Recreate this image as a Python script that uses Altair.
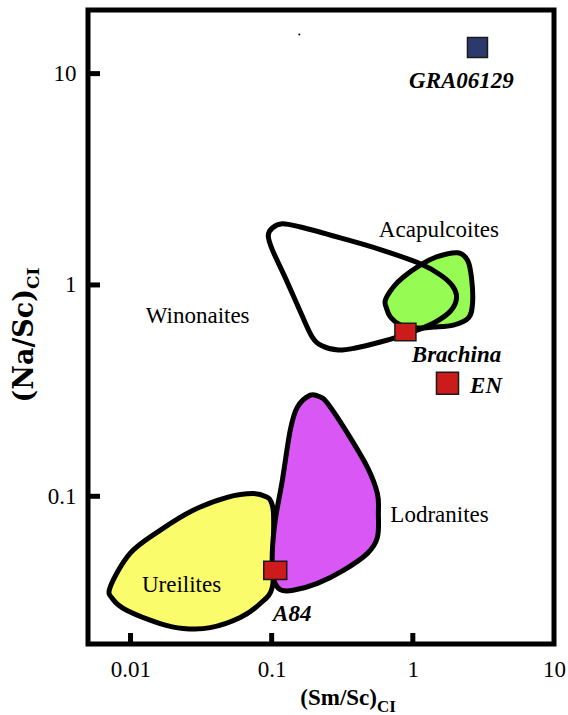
import altair as alt
import pandas as pd

# ---------------- data ----------------
# Winonaites field (outline only)
win_x = [0.0946, 0.101, 0.119, 0.160, 0.307, 0.589, 1.13, 1.57, 1.91, 2.04, 1.85,
         1.45, 1.08, 0.817, 0.589, 0.392, 0.297, 0.229, 0.194, 0.160, 0.125, 0.101]
win_y = [1.71, 1.86, 1.95, 1.88, 1.67, 1.47, 1.26, 1.115, 0.989, 0.868, 0.753,
         0.668, 0.612, 0.573, 0.537, 0.503, 0.492, 0.514, 0.567, 0.745, 1.08, 1.47]

# Acapulcoites field
aca_x = [0.639, 0.728, 0.858, 1.13, 1.49, 2.07, 2.44, 2.60, 2.65, 2.48, 1.94,
         1.40, 1.08, 0.817, 0.694, 0.650]
aca_y = [0.849, 0.978, 1.09, 1.24, 1.36, 1.42, 1.31, 1.09, 0.822, 0.698, 0.646,
         0.632, 0.626, 0.646, 0.705, 0.778]

# Lodranites field
lod_x = [0.188, 0.221, 0.248, 0.344, 0.477, 0.561, 0.570, 0.561, 0.477, 0.322,
         0.211, 0.142, 0.115, 0.103, 0.101, 0.106, 0.119, 0.1355, 0.152]
lod_y = [0.301, 0.295, 0.276, 0.199, 0.137, 0.103, 0.083, 0.0639, 0.0537, 0.0446,
         0.0387, 0.0359, 0.0362, 0.0409, 0.0537, 0.0769, 0.119, 0.206, 0.264]

# Ureilites field
ure_x = [0.0931, 0.0741, 0.0484, 0.0278, 0.0162, 0.00993, 0.00717, 0.00753, 0.00946,
         0.0162, 0.0236, 0.0367, 0.0599, 0.0830, 0.101, 0.103, 0.103, 0.0994]
ure_y = [0.0989, 0.103, 0.0989, 0.0859, 0.0690, 0.0537, 0.0371, 0.0325, 0.0288,
         0.0250, 0.0237, 0.0239, 0.0267, 0.0311, 0.0371, 0.0573, 0.0830, 0.0937]

# individual meteorites
sample_names = ["GRA06129", "Brachina", "EN", "A84"]
sample_x = [2.87, 0.886, 1.76, 0.106]
sample_y = [13.3, 0.599, 0.343, 0.0446]
sample_label_x = [2.21, 2.04, 3.30, 0.140]
sample_label_y = [8.59, 0.432, 0.308, 0.0258]

# group labels
group_names = ["Winonaites", "Acapulcoites", "Lodranites", "Ureilites"]
group_label_x = [0.0299, 1.53, 1.545, 0.0230]
group_label_y = [0.660, 1.69, 0.0753, 0.0352]

# stray dot in the original
dot_x = [0.157]
dot_y = [15.3]

# axes
x_tick_values = [0.01, 0.1, 1, 10]
x_inner_ticks = [0.01, 0.1, 1]
y_tick_values = [0.1, 1, 10]
x_domain = [0.005, 10]
y_domain = [0.02, 20]
x_title_main, x_title_sub = "(Sm/Sc)", "CI"
y_title_main, y_title_sub = "(Na/Sc)", "CI"

# ---------------- styles ----------------
W, H = 466, 634
SERIF = "'Liberation Serif', 'Times New Roman', Times, serif"
YSERIF = "'DejaVu Serif', serif"
RED = "#cc1b1b"
NAVY = "#2b3a6b"
GREEN = "#96fb52"
YELLOW = "#fbfc6c"
MAGENTA = "#d957f5"

xscale = alt.Scale(type="log", domain=x_domain, nice=False)
yscale = alt.Scale(type="log", domain=y_domain, nice=False)
xaxis = alt.Axis(values=x_tick_values, format="~g", title=None, grid=False, ticks=False,
                 tickSize=0, domain=False, labelFont=SERIF, labelFontSize=23,
                 labelColor="black", labelPadding=14, labelFlush=False)
yaxis = alt.Axis(values=y_tick_values, format="~g", title=None, grid=False, ticks=False,
                 tickSize=0, domain=False, labelFont=SERIF, labelFontSize=23,
                 labelColor="black", labelPadding=12, labelFlush=False)

X = alt.X("x:Q", scale=xscale, axis=xaxis)
Y = alt.Y("y:Q", scale=yscale, axis=yaxis)


def blob(xs, ys, fill=None):
    df = pd.DataFrame({"x": xs, "y": ys, "i": list(range(len(xs)))})
    kw = dict(interpolate="cardinal-closed", stroke="black", strokeWidth=5,
              strokeJoin="round")
    if fill is not None:
        kw["fill"] = fill
    return alt.Chart(df).mark_line(**kw).encode(x=X, y=Y, order="i:Q")


ure = blob(ure_x, ure_y, YELLOW)
lod = blob(lod_x, lod_y, MAGENTA)
aca = blob(aca_x, aca_y, GREEN)
win = blob(win_x, win_y)

xt = alt.Chart(pd.DataFrame({"x": x_inner_ticks})).mark_rule(
    color="black", strokeWidth=5).encode(x=X, y=alt.value(H), y2=alt.value(H - 11))
yt = alt.Chart(pd.DataFrame({"y": y_tick_values})).mark_rule(
    color="black", strokeWidth=5).encode(y=Y, x=alt.value(0), x2=alt.value(12))

dot = alt.Chart(pd.DataFrame({"x": dot_x, "y": dot_y})).mark_circle(
    size=4, color="black", opacity=1).encode(x=X, y=Y)

smp_df = pd.DataFrame({"name": sample_names, "x": sample_x, "y": sample_y})
markers = alt.Chart(smp_df).mark_point(
    filled=True, opacity=1, stroke="#1a1a1a", strokeWidth=1.5).encode(
    x=X, y=Y,
    fill=alt.Fill("name:N", scale=alt.Scale(domain=sample_names,
                                             range=[NAVY, RED, RED, RED]), legend=None),
    shape=alt.Shape("name:N", scale=alt.Scale(
        domain=sample_names,
        range=["square", "M-1,-0.826H1V0.826H-1Z", "square", "M-1,-0.79H1V0.79H-1Z"]),
        legend=None),
    size=alt.Size("name:N", scale=alt.Scale(domain=sample_names,
                                             range=[400, 529, 441, 576]), legend=None),
)

slab_df = pd.DataFrame({"name": sample_names, "x": sample_label_x, "y": sample_label_y})
slabels = alt.Chart(slab_df).mark_text(
    font=SERIF, fontSize=23, fontWeight="bold", fontStyle="italic", align="center",
    baseline="alphabetic", color="black").encode(x=X, y=Y, text="name:N")

glab_df = pd.DataFrame({"name": group_names, "x": group_label_x, "y": group_label_y})
glabels = alt.Chart(glab_df).mark_text(
    font=SERIF, fontSize=23, align="center", baseline="alphabetic",
    color="black").encode(x=X, y=Y, text="name:N")

one = pd.DataFrame({"a": [0]})
xtm = alt.Chart(one).mark_text(font=SERIF, fontSize=23, fontWeight="bold", align="right",
                               baseline="alphabetic", color="black").encode(
    x=alt.value(289), y=alt.value(695), text=alt.value(x_title_main))
xts = alt.Chart(one).mark_text(font=SERIF, fontSize=17, fontWeight="bold", align="left",
                               baseline="alphabetic", color="black").encode(
    x=alt.value(289), y=alt.value(702), text=alt.value(x_title_sub))
ytm = alt.Chart(one).mark_text(font=YSERIF, fontSize=27, fontWeight="bold",
                               align="right", baseline="alphabetic", angle=270,
                               color="black").encode(
    x=alt.value(-55), y=alt.value(279), text=alt.value(y_title_main))
yts = alt.Chart(one).mark_text(font=YSERIF, fontSize=17, fontWeight="bold",
                               align="left", baseline="alphabetic", angle=270,
                               color="black").encode(
    x=alt.value(-49), y=alt.value(279), text=alt.value(y_title_sub))

chart = alt.layer(ure, lod, aca, win, xt, yt, dot, markers, slabels, glabels,
                  xtm, xts, ytm, yts).properties(
    width=W, height=H,
    padding={"left": 88, "top": 10, "right": 14, "bottom": 71},
    autosize=alt.AutoSizeParams(type="none"),
    background="white",
).configure_view(stroke="black", strokeWidth=5)

chart.save("out.html", embed_options={"renderer": "svg", "actions": False})
